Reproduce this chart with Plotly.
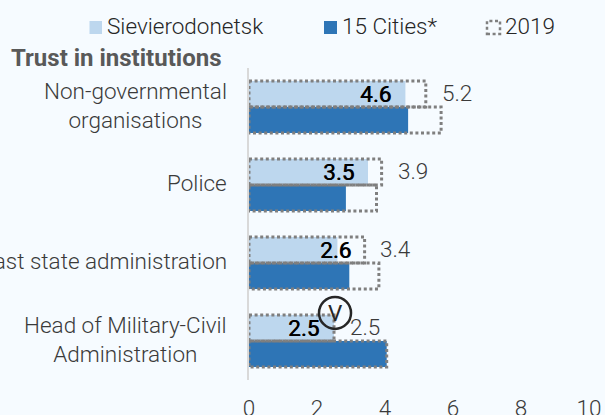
import plotly.graph_objects as go

categories = ["Non-governmental<br>organisations", "Police", "Oblast state administration",
              "Head of Military-Civil<br>Administration"]
sievierodonetsk = [4.6, 3.5, 2.6, 2.5]
cities15 = [4.68, 2.85, 2.95, 4.05]
sievierodonetsk_2019 = [5.2, 3.9, 3.4, 2.5]
cities15_2019 = [5.65, 3.75, 3.82, 4.05]
x_ticks = [0, 2, 4, 6, 8, 10]

BG = "#f6fbff"
LIGHT = "#bdd7ee"
DARK = "#2e75b6"
DOT = "#7f7f7f"
TXT = "#3a3a3a"
FONT = "Roboto"
FS = 22.5
W, H = 605, 415
ML, MR, MT, MB = 249, 16, 68, 35
BAR = 1 / 3
idx = list(range(len(categories)))


def outline(values, offset, name):
    xs, ys = [], []
    for i, v in zip(idx, values):
        lo, hi = i + offset - BAR / 2, i + offset + BAR / 2
        xs += [0, v, v, 0, 0, None]
        ys += [lo, lo, hi, hi, lo, None]
    return go.Scatter(x=xs, y=ys, mode="lines", name=name, showlegend=False, hoverinfo="skip",
                      line=dict(color=DOT, width=3, dash="3px,2.6px"))


fig = go.Figure()
fig.add_bar(y=[i - BAR / 2 for i in idx], x=sievierodonetsk, orientation="h", width=BAR,
            marker=dict(color=LIGHT, line_width=0), name="Sievierodonetsk", showlegend=False)
fig.add_bar(y=[i + BAR / 2 for i in idx], x=cities15, orientation="h", width=BAR,
            marker=dict(color=DARK, line_width=0), name="15 Cities*", showlegend=False)
fig.add_trace(outline(sievierodonetsk_2019, -BAR / 2, "2019 Sievierodonetsk"))
fig.add_trace(outline(cities15_2019, BAR / 2, "2019 15 Cities"))


def px(x):
    return (x - ML) / (W - ML - MR)


def py(y):
    return 1 - (y - MT) / (H - MT - MB)


label_shift = [-30, -30, -2, -31]
annotations = []
for i in idx:
    annotations.append(dict(x=px(229), y=i, xref="paper", yref="y", text=categories[i], showarrow=False,
                            xanchor="right", align="center", yshift=2,
                            font=dict(family=FONT, size=FS, color=TXT, weight=300)))
    annotations.append(dict(x=sievierodonetsk[i], y=i - BAR / 2, text=f"{sievierodonetsk[i]:.1f}",
                            xref="x", yref="y", showarrow=False, xshift=label_shift[i], yshift=0,
                            font=dict(family=FONT, size=FS, color="#000000", weight=400,
                                      shadow="0.6px 0 0 #000000")))
    annotations.append(dict(x=sievierodonetsk_2019[i], y=i - BAR / 2, text=f"{sievierodonetsk_2019[i]:.1f}",
                            xref="x", yref="y", showarrow=False, xshift=31, yshift=1,
                            font=dict(family=FONT, size=FS, color=TXT, weight=300)))

for x, label in [(105, "Sievierodonetsk"), (340, "15 Cities*"), (503, "2019")]:
    annotations.append(dict(x=px(x), y=py(26), xref="paper", yref="paper", xanchor="left", yanchor="middle",
                            text=label, showarrow=False, font=dict(family=FONT, size=FS, color="#262626", weight=300)))
annotations.append(dict(x=px(8.5), y=py(58), xref="paper", yref="paper", xanchor="left", yanchor="middle",
                        text="<b>Trust in institutions</b>", showarrow=False,
                        font=dict(family=FONT, size=24, color="#595959")))
annotations.append(dict(x=2.53, y=2.64, xref="x", yref="y", text="V", showarrow=False,
                        font=dict(family=FONT, size=FS, color="#262626")))

shapes = [
    dict(type="rect", xref="paper", yref="paper", x0=px(89.5), x1=px(102), y0=py(34), y1=py(21),
         fillcolor=LIGHT, line_width=0),
    dict(type="rect", xref="paper", yref="paper", x0=px(324), x1=px(337), y0=py(34), y1=py(21),
         fillcolor=DARK, line_width=0),
    dict(type="rect", xref="paper", yref="paper", x0=px(487), x1=px(500), y0=py(34), y1=py(21),
         line=dict(color=DOT, width=2.5, dash="3px,2.6px"), fillcolor="rgba(0,0,0,0)"),
    dict(type="circle", xref="x", yref="y", xsizemode="pixel", ysizemode="pixel", xanchor=2.53, yanchor=2.64,
         x0=-16, x1=16, y0=-16, y1=16, line=dict(color="#262626", width=2.5), fillcolor="rgba(0,0,0,0)"),
]

fig.update_layout(
    width=W, height=H, autosize=False, barmode="overlay", showlegend=False,
    paper_bgcolor=BG, plot_bgcolor=BG,
    margin=dict(l=ML, r=MR, t=MT, b=MB, pad=0, autoexpand=False),
    annotations=annotations, shapes=shapes,
    font=dict(family=FONT, size=FS, color=TXT),
    xaxis=dict(range=[0, 10], tickvals=x_ticks, showgrid=False, zeroline=False, showline=False, ticks="",
               automargin=False, ticklabelstandoff=12,
               tickfont=dict(family=FONT, size=FS, color=TXT, weight=300)),
    yaxis=dict(range=[3.5, -0.5], tickvals=idx, showticklabels=False, showgrid=False, zeroline=False,
               showline=True, linecolor="#d9d9d9", linewidth=2, ticks="", automargin=False),
)
fig.write_html("out.html", config={"displayModeBar": False}, post_script=(
    "document.body.style.margin='0';document.body.style.overflow='hidden';"
    f"document.body.style.background='{BG}';"))
